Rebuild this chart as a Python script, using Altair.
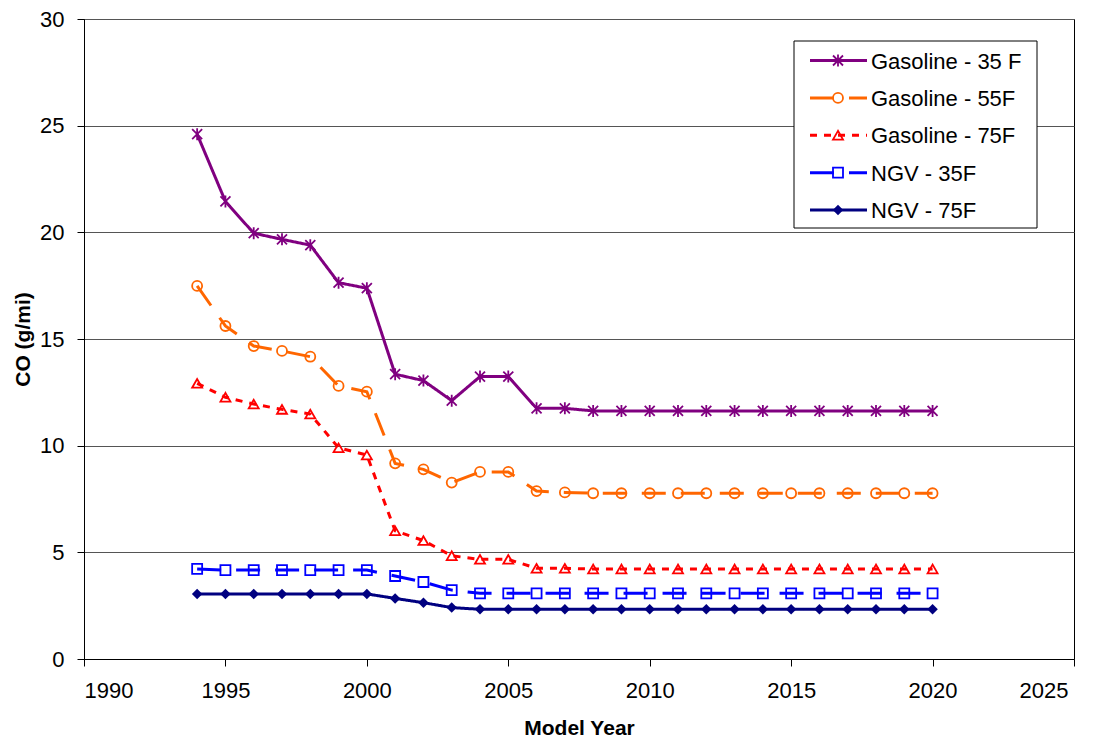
import altair as alt
import pandas as pd

years = list(range(1994, 2021))
series_names = ["Gasoline - 35 F", "Gasoline - 55F", "Gasoline - 75F", "NGV - 35F", "NGV - 75F"]

gas_35 = [24.60, 21.45, 19.96, 19.67, 19.40, 17.64, 17.38, 13.35, 13.05, 12.11, 13.24, 13.24, 11.75, 11.75,
          11.63, 11.63, 11.63, 11.63, 11.63, 11.63, 11.63, 11.63, 11.63, 11.63, 11.63, 11.63, 11.63]
gas_55 = [17.49, 15.61, 14.67, 14.44, 14.17, 12.80, 12.53, 9.17, 8.89, 8.27, 8.77, 8.77, 7.87, 7.81,
          7.77, 7.77, 7.77, 7.77, 7.77, 7.77, 7.77, 7.77, 7.77, 7.77, 7.77, 7.77, 7.77]
gas_75 = [12.92, 12.27, 11.95, 11.70, 11.48, 9.90, 9.56, 6.01, 5.55, 4.84, 4.67, 4.67, 4.25, 4.25,
          4.22, 4.22, 4.22, 4.22, 4.22, 4.22, 4.22, 4.22, 4.22, 4.22, 4.22, 4.22, 4.22]
ngv_35 = [4.22, 4.17, 4.17, 4.17, 4.17, 4.17, 4.17, 3.89, 3.61, 3.23, 3.08, 3.08, 3.08, 3.08,
          3.08, 3.08, 3.08, 3.08, 3.08, 3.08, 3.08, 3.08, 3.08, 3.08, 3.08, 3.08, 3.08]
ngv_75 = [3.05, 3.05, 3.05, 3.05, 3.05, 3.05, 3.05, 2.84, 2.64, 2.41, 2.33, 2.33, 2.33, 2.33,
          2.33, 2.33, 2.33, 2.33, 2.33, 2.33, 2.33, 2.33, 2.33, 2.33, 2.33, 2.33, 2.33]

x_ticks = [1990, 1995, 2000, 2005, 2010, 2015, 2020, 2025]
y_ticks = [0, 5, 10, 15, 20, 25, 30]

colors = ["#800080", "#FF6600", "#FF0000", "#0000FF", "#000080"]
dashes = [[1, 0], [24, 15], [7, 7], [24, 15], [1, 0]]
asterisk = "M-1,-1L1,1M1,-1L-1,1M0,-1.2L0,1.2"
shapes = [asterisk, "circle", "triangle-up", "square", "diamond"]

rows = []
for name, vals in zip(series_names, [gas_35, gas_55, gas_75, ngv_35, ngv_75]):
    for yr, v in zip(years, vals):
        rows.append({"year": yr, "value": v, "series": name})
df = pd.DataFrame(rows)

legend_df = pd.DataFrame({"series": series_names, "row": list(range(len(series_names)))})

FONT = "Liberation Sans"

color_enc = alt.Color("series:N", scale=alt.Scale(domain=series_names, range=colors), legend=None)
dash_enc = alt.StrokeDash("series:N", scale=alt.Scale(domain=series_names, range=dashes), legend=None)
shape_enc = alt.Shape("series:N", scale=alt.Scale(domain=series_names, range=shapes), legend=None)

x_enc = alt.X("year:Q", scale=alt.Scale(domain=[1990, 2025], nice=False, zero=False),
              axis=alt.Axis(values=x_ticks, format="d", grid=False, tickSize=7, labelPadding=14,
                            labelOffset={"condition": {"test": "datum.value == 2025", "value": -6}, "value": 0},
                            title="Model Year", titleX=495, titleY=75, titleAlign="center",
                            titleBaseline="alphabetic"))
y_enc = alt.Y("value:Q", scale=alt.Scale(domain=[0, 30], nice=False, zero=True),
              axis=alt.Axis(values=y_ticks, grid=True, gridColor="#555555", gridWidth=1, tickSize=7,
                            labelPadding=13, title="CO (g/mi)", titleX=-55, titleY=320,
                            titleAlign="center", titleBaseline="alphabetic"))

base = alt.Chart(df)
lines = base.mark_line(strokeWidth=3).encode(
    x=x_enc, y=y_enc, color=color_enc, strokeDash=dash_enc, detail="series:N",
    order=alt.Order("year:Q"))
hollow = base.transform_filter(alt.datum.series != "NGV - 75F").mark_point(
    filled=False, size=100, strokeWidth=1.8, opacity=1).encode(
    x="year:Q", y="value:Q", color=color_enc, shape=shape_enc)
solid = base.transform_filter(alt.datum.series == "NGV - 75F").mark_point(
    filled=True, size=110, opacity=1).encode(
    x="year:Q", y="value:Q", color=color_enc, shape=shape_enc)
main = alt.layer(lines, hollow, solid)

# legend
ly = alt.Y("row:Q", scale=alt.Scale(domain=[0, 4], range=[41.5, 191], nice=False, zero=False), axis=None)
box = alt.Chart(alt.Data(values=[{"a": 1}])).mark_rect(fill="white", stroke="black", strokeWidth=1).encode(
    x=alt.value(710), x2=alt.value(953), y=alt.value(22), y2=alt.value(209))
lbase = alt.Chart(legend_df)
lrule = lbase.mark_rule(strokeWidth=3).encode(
    x=alt.value(726), x2=alt.value(783), y=ly, color=color_enc, strokeDash=dash_enc)
lhollow = lbase.transform_filter(alt.datum.series != "NGV - 75F").mark_point(
    filled=False, size=100, strokeWidth=1.8, opacity=1).encode(
    x=alt.value(754), y=ly, color=color_enc, shape=shape_enc)
lsolid = lbase.transform_filter(alt.datum.series == "NGV - 75F").mark_point(
    filled=True, size=110, opacity=1).encode(
    x=alt.value(754), y=ly, color=color_enc, shape=shape_enc)
ltext = lbase.mark_text(align="left", baseline="middle", font=FONT, fontSize=22, color="black", dy=1).encode(
    x=alt.value(787), y=ly, text="series:N")
legend = alt.layer(lrule, lhollow, lsolid, ltext)

chart = alt.layer(main, box, legend).resolve_scale(y="independent").properties(
    width=990, height=640,
    autosize=alt.AutoSizeParams(type="none"),
    padding={"left": 76, "top": 11, "right": 18, "bottom": 79},
    background="white",
).configure_view(stroke="black", strokeWidth=1).configure_axis(
    labelFont=FONT, labelFontSize=22, labelColor="black",
    titleFont=FONT, titleFontSize=21, titleFontWeight="bold", titleColor="black",
    domainColor="black", tickColor="black", domainWidth=1, tickWidth=1,
)

chart.save("out.html", embed_options={"renderer": "svg", "actions": False})
